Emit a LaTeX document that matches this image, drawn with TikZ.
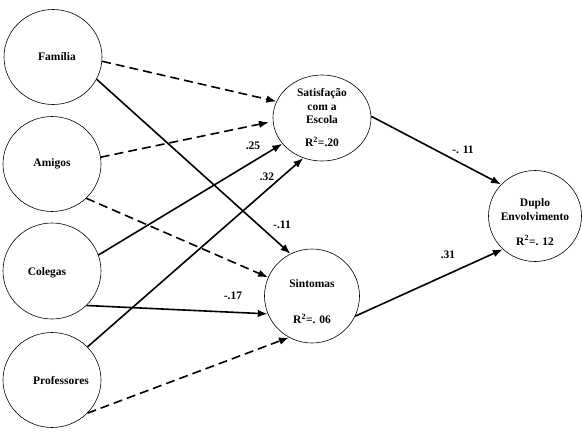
\documentclass[tikz,border=0pt]{standalone}
\usepackage{fontspec}
\setmainfont{Liberation Serif}
\usetikzlibrary{arrows.meta,shapes.geometric}

\tikzset{
  var/.style={ellipse, draw, line width=0.6pt, inner sep=0pt},
  eff/.style={line width=1.6pt, -{Latex[length=10pt,width=7.5pt]}},
  neff/.style={eff, dash pattern=on 9pt off 5pt},
  coef/.style={inner sep=1pt}
}

\begin{document}
\begin{tikzpicture}[x=1pt, y=-1pt, font=\bfseries\fontsize{11.5}{13.5}\selectfont]

  \useasboundingbox (0,0) rectangle (582,432);

  % Define nodes
  \node[var, minimum width=98pt, minimum height=95pt,
        label={[xshift=4pt]center:Família}]    (fam) at (53,57)  {};
  \node[var, minimum width=98pt, minimum height=95pt,
        label={center:Amigos}]                 (ami) at (52,164) {};
  \node[var, minimum width=98pt, minimum height=96pt,
        label={[xshift=-5pt,yshift=-2pt]center:Colegas}] (col) at (52,271) {};
  \node[var, minimum width=98pt, minimum height=95pt,
        label={[xshift=9pt,yshift=-1pt]center:Professores}] (pro) at (52,380) {};
  \node[var, minimum width=98pt, minimum height=86pt,
        label={[align=center]center:Satisfação\\com a\\Escola\\[9.5pt]R\textsuperscript{2}=.20}] (sat) at (322,118) {};
  \node[var, minimum width=95pt, minimum height=94pt,
        label={[align=center,yshift=-6pt]center:Sintomas\\[22.5pt]R\textsuperscript{2}=. 06}] (sin) at (312,296) {};
  \node[var, minimum width=93pt, minimum height=91pt,
        label={[align=center,yshift=-6pt]center:Duplo\\Envolvimento\\[11.5pt]R\textsuperscript{2}=. 12}] (dup) at (535,216) {};

  % Path coefficients
  \node[coef] (c25)  at (253,146) {.25};
  \node[coef] (c32)  at (267,177) {.32};
  \node[coef] (c11)  at (282,225) {-.11};
  \node[coef] (c17)  at (233,296) {-.17};
  \node[coef] (cs11) at (463,150) {-. 11};
  \node[coef] (c31)  at (448,255) {.31};

  % Connect the nodes
  \draw[neff] (fam.-5)  -- (sat.160);
  \draw[eff]  (fam.-27) -- (sin.117);
  \draw[neff, shorten >=4pt] (ami.8) -- (sat.184);
  \draw[neff] (ami.-45) -- (sin.157);
  \draw[eff]  (col.19)  -- (sat.213);
  \draw[eff]  (col.-45) -- (sin.202);
  \draw[eff]  (pro.43)  -- (sat.245);
  \draw[neff] (pro.-43) -- (sin.241);
  \draw[eff]  (sat.2)   -- (dup.137);
  \draw[eff]  (sin.-25) -- (dup.226);

\end{tikzpicture}
\end{document}
